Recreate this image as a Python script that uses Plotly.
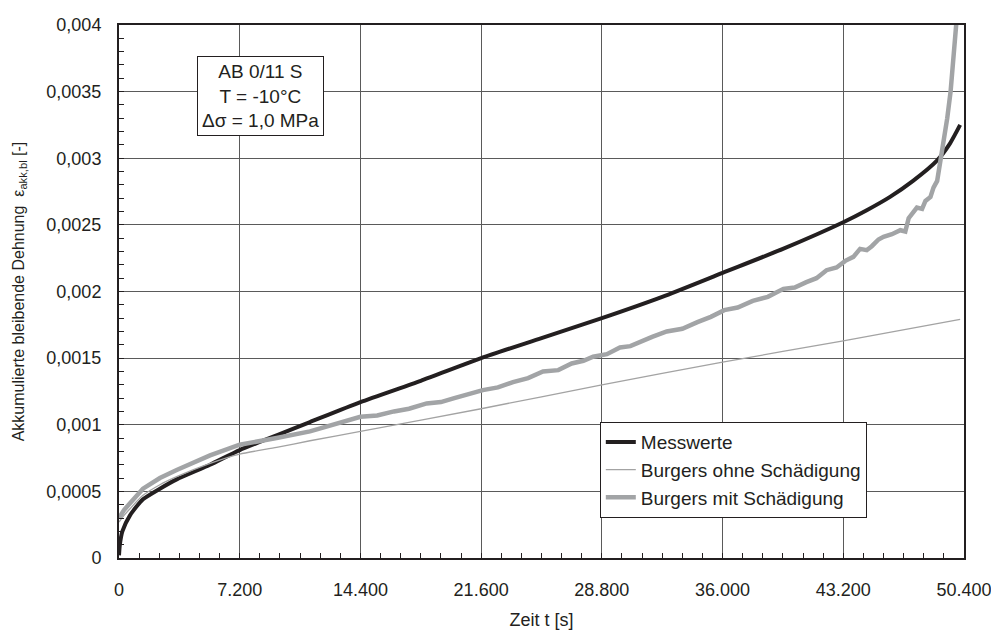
import plotly.graph_objects as go

# ---- data ----
t_mess = [0, 50, 200, 656, 1430, 2440, 3440, 5430, 7200, 9400, 11390, 14400, 18000, 21600,
          25200, 28800, 32400, 36000, 39600, 43200, 44600, 45990, 47360, 48770, 49560, 50170]
eps_mess = [0.00002, 0.0001, 0.0002, 0.00032, 0.00044, 0.00052, 0.00059, 0.0007, 0.00081, 0.00092,
            0.00102, 0.00117, 0.00133, 0.0015, 0.00165, 0.0018, 0.00196, 0.00214, 0.00232, 0.00252,
            0.00261, 0.00271, 0.00283, 0.00298, 0.00311, 0.00325]

t_ohne = [0, 300, 656, 1430, 2440, 3440, 5430, 7200, 9400, 11390, 14400, 21600, 28800, 36000,
          43200, 50170]
eps_ohne = [0.00027, 0.00032, 0.00037, 0.00047, 0.00055, 0.00061, 0.00071, 0.00078, 0.00083,
            0.00088, 0.00095, 0.00112, 0.0013, 0.00147, 0.00163, 0.00179]

t_mit = [0, 300, 656, 1430, 2440, 3440, 5430, 7200, 9400, 11390, 14400, 15400, 16400, 17300,
         18350, 19200, 20000, 20800, 21700, 22600, 23500, 24400, 25290, 26200, 27000, 27700,
         28280, 29100, 29880, 30500, 31000, 31800, 32670, 33600, 34500, 35300, 36100, 36900,
         37800, 38700, 39630, 40300, 41000, 41600, 42200, 42800, 43320, 43800, 44200, 44600,
         44900, 45300, 45600, 46100, 46600, 46900, 47100, 47590, 47900, 48100, 48400, 48580,
         48800, 49000, 49200, 49400, 49600, 49800, 50000]
eps_mit = [0.0003, 0.00036, 0.00041, 0.00052, 0.0006, 0.00066, 0.00077, 0.00085, 0.0009, 0.00095,
           0.00106, 0.00107, 0.0011, 0.00112, 0.00116, 0.00117, 0.0012, 0.00123, 0.00126, 0.00128,
           0.00132, 0.00135, 0.0014, 0.00141, 0.00146, 0.00148, 0.00151, 0.00153, 0.00158,
           0.00159, 0.00162, 0.00166, 0.0017, 0.00172, 0.00177, 0.00181, 0.00186, 0.00188,
           0.00193, 0.00196, 0.00202, 0.00203, 0.00207, 0.0021, 0.00216, 0.00218, 0.00223,
           0.00226, 0.00232, 0.00231, 0.00234, 0.00239, 0.00241, 0.00243, 0.00246, 0.00245,
           0.00255, 0.00263, 0.00262, 0.00268, 0.00271, 0.00278, 0.00283, 0.00298, 0.00312,
           0.0033, 0.0035, 0.0038, 0.0041]

x_tickvals = [0, 7200, 14400, 21600, 28800, 36000, 43200, 50400]
x_ticktext = ["0", "7.200", "14.400", "21.600", "28.800", "36.000", "43.200", "50.400"]
y_tickvals = [0, 0.0005, 0.001, 0.0015, 0.002, 0.0025, 0.003, 0.0035, 0.004]
y_ticktext = ["0", "0,0005", "0,001", "0,0015", "0,002", "0,0025", "0,003", "0,0035", "0,004"]

FONT = "Liberation Sans, Arial, sans-serif"
INK = "#231f20"

fig = go.Figure()
fig.add_trace(go.Scatter(x=t_mess, y=eps_mess, mode="lines", name="Messwerte",
                         line=dict(color=INK, width=4, shape="spline", smoothing=0.6)))
fig.add_trace(go.Scatter(x=t_ohne, y=eps_ohne, mode="lines", name="Burgers ohne Schädigung",
                         line=dict(color="#a3a3a3", width=1.3, shape="spline", smoothing=0.6)))
fig.add_trace(go.Scatter(x=t_mit, y=eps_mit, mode="lines", name="Burgers mit Schädigung",
                         line=dict(color="#a2a4a6", width=4.5)))

axis_common = dict(showline=True, linecolor=INK, linewidth=2, mirror=True,
                   showgrid=True, gridcolor="#5a5a5a", gridwidth=1,
                   ticks="inside", ticklen=5, tickcolor=INK, automargin=False,
                   zeroline=False, tickfont=dict(family=FONT, size=18, color=INK))

fig.update_xaxes(range=[0, 50400], tickmode="array", tickvals=x_tickvals, ticktext=x_ticktext,
                 ticklabelstandoff=14,
                 minor=dict(dtick=1200, tick0=0, ticks="inside", ticklen=5, tickcolor=INK,
                            showgrid=False),
                 title=dict(text="Zeit t [s]", font=dict(family=FONT, size=18, color=INK),
                            standoff=15),
                 **axis_common)
fig.update_yaxes(range=[0, 0.004], tickmode="array", tickvals=y_tickvals, ticktext=y_ticktext,
                 ticklabelstandoff=12,
                 minor=dict(dtick=0.0001, tick0=0, ticks="inside", ticklen=5, tickcolor=INK,
                            showgrid=False),
                 title=dict(text="Akkumulierte bleibende Dehnung  ε<sub>akk,bl</sub> [-]",
                            font=dict(family=FONT, size=16, color=INK), standoff=18),
                 **axis_common)

fig.add_annotation(xref="paper", yref="paper", x=0.167, y=0.867, xanchor="center", yanchor="middle",
                   text="AB 0/11 S<br>T = -10°C<br>Δσ = 1,0 MPa", showarrow=False, align="center",
                   font=dict(family=FONT, size=19, color=INK),
                   bgcolor="white", bordercolor=INK, borderwidth=1, borderpad=4)

# the page body has an 8 px margin, so the figure is drawn 8 px smaller and shifted
fig.update_layout(
    width=991, height=625,
    margin=dict(l=111, r=35, t=17, b=75, autoexpand=False),
    paper_bgcolor="white", plot_bgcolor="white",
    font=dict(family=FONT, size=16, color=INK),
    showlegend=True,
    legend=dict(x=0.569, y=0.255, xanchor="left", yanchor="top",
                bgcolor="white", bordercolor=INK, borderwidth=1,
                font=dict(family=FONT, size=19, color=INK),
                itemwidth=30, tracegroupgap=0),
)

fig.write_html("out.html")
